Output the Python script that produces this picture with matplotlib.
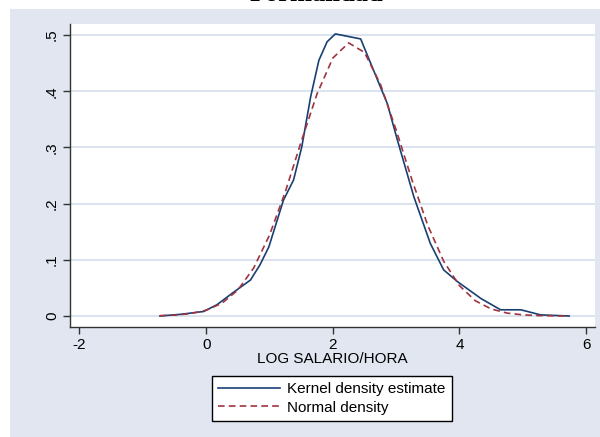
import matplotlib
matplotlib.use('Agg')
import matplotlib.pyplot as plt
from matplotlib.patches import Rectangle

# kernel density
x_kernel = [-0.73, -0.40, -0.04, 0.17, 0.43, 0.70, 0.85, 0.99, 1.22, 1.38, 1.51,
            1.65, 1.78, 1.91, 2.04, 2.44, 2.75, 2.86, 3.02, 3.28, 3.54, 3.75,
            3.97, 4.34, 4.65, 4.97, 5.28, 5.73]
y_kernel = [0.000, 0.003, 0.008, 0.020, 0.042, 0.064, 0.091, 0.123, 0.206, 0.242, 0.301,
            0.390, 0.455, 0.488, 0.502, 0.493, 0.408, 0.378, 0.313, 0.212, 0.129, 0.082,
            0.061, 0.031, 0.011, 0.011, 0.002, 0.000]

# normal density
x_normal = [-0.73, -0.50, -0.25, 0.00, 0.25, 0.50, 0.75, 1.00, 1.25, 1.50, 1.75,
            2.00, 2.25, 2.50, 2.75, 3.00, 3.25, 3.50, 3.75, 4.00, 4.25, 4.50,
            4.75, 5.00, 5.25, 5.50, 5.73]
y_normal = [0.0006, 0.0015, 0.0042, 0.0102, 0.0227, 0.0461, 0.0853, 0.1439, 0.221, 0.310, 0.395,
            0.459, 0.486, 0.469, 0.413, 0.331, 0.242, 0.161, 0.0975, 0.0539, 0.0271, 0.0125,
            0.0052, 0.0020, 0.0007, 0.0002, 0.0001]

xticks = [-2, 0, 2, 4, 6]
yticks = [0, 0.1, 0.2, 0.3, 0.4, 0.5]
ytick_labels = ['0', '.1', '.2', '.3', '.4', '.5']

plt.rcParams['font.family'] = ['Liberation Sans', 'DejaVu Sans']
plt.rcParams['axes.unicode_minus'] = False

W, H = 600, 437
fig = plt.figure(figsize=(6, 4.37), dpi=100)
fig.patch.set_facecolor('white')

# graph region background
bg = Rectangle((10 / W, 0), 1 - 10 / W, 1 - 9 / H,
               transform=fig.transFigure, facecolor='#E1E6F0',
               edgecolor='none', zorder=-10)
fig.add_artist(bg)

# cut-off title
fig.text(316 / W, 1 - 1.2 / H, 'Formalidad', ha='center', va='baseline',
         family='Liberation Serif', fontweight='bold', fontsize=19)

ax = fig.add_axes([70 / W, 1 - 327 / H, 525 / W, 303 / H])
ax.set_zorder(1)
ax.set_facecolor('white')

navy = '#1A3F73'
maroon = '#A03440'
ax.plot(x_kernel, y_kernel, color=navy, lw=1.2, label='Kernel density estimate', zorder=3)
ax.plot(x_normal, y_normal, color=maroon, lw=1.2, ls=(0, (4, 2.5)), label='Normal density', zorder=3)

ax.set_xlim(-2.15, 6.14)
ax.set_ylim(-0.0196, 0.5196)
ax.set_xticks(xticks)
ax.set_yticks(yticks)
ax.set_yticklabels(ytick_labels, rotation=90, va='center')
ax.grid(axis='y', color='#D8E0EE', lw=1.3)
ax.set_axisbelow(True)

for s in ['top', 'right']:
    ax.spines[s].set_visible(False)
for s in ['left', 'bottom']:
    ax.spines[s].set_color('#333333')
    ax.spines[s].set_linewidth(1.0)
ax.tick_params(axis='both', length=5, width=1.0, color='#333333', labelsize=11, pad=3)

ax.set_xlabel('LOG SALARIO/HORA', fontsize=11, labelpad=0)

leg = fig.legend(loc='upper center', bbox_to_anchor=(332 / W, 1 - 376 / H),
                 ncol=1, fontsize=11, frameon=True, fancybox=False, framealpha=1,
                 handlelength=4, handletextpad=0.5, borderpad=0.4,
                 labelspacing=0.3, borderaxespad=0)
leg.get_frame().set_facecolor('white')
leg.get_frame().set_edgecolor('black')
leg.get_frame().set_linewidth(1.0)

fig.savefig('out.png', dpi=100)
